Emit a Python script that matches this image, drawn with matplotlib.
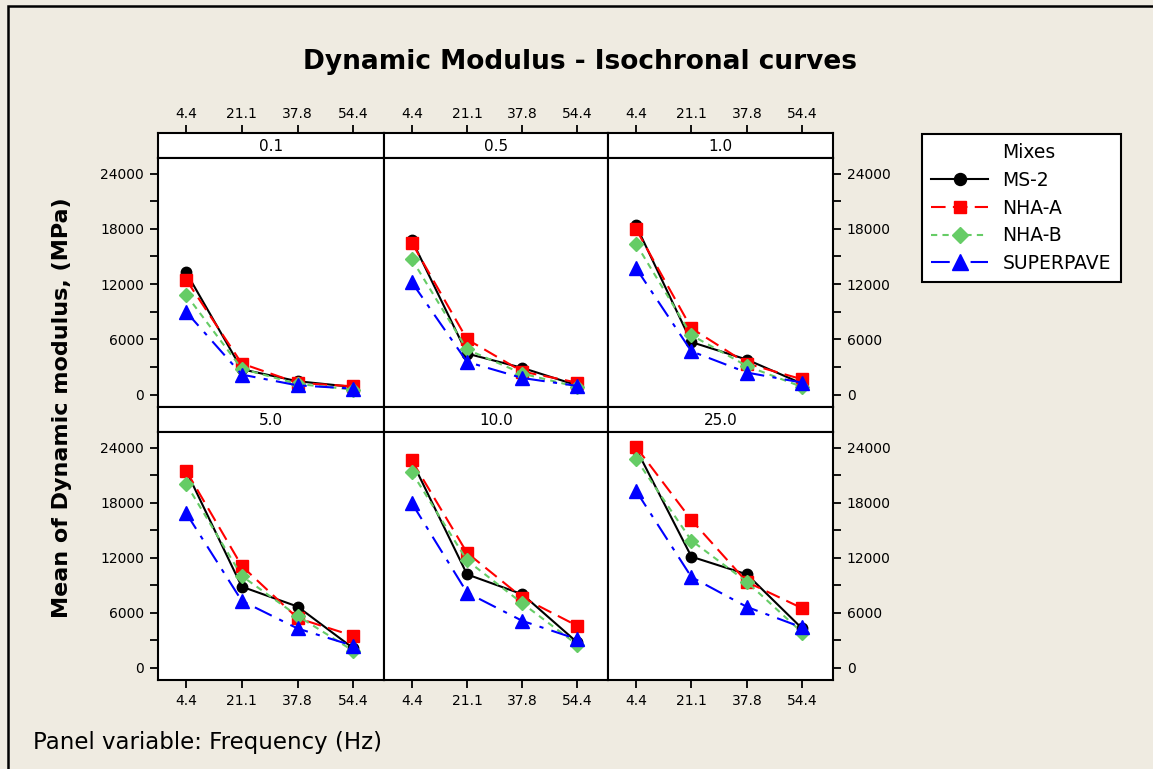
import matplotlib
matplotlib.use("Agg")
import matplotlib.pyplot as plt
from matplotlib.lines import Line2D
from matplotlib.patches import Rectangle
import numpy as np

# temperatures (x axis) and loading frequencies (panels)
temps = [4.4, 21.1, 37.8, 54.4]
freqs = ["0.1", "0.5", "1.0", "5.0", "10.0", "25.0"]

# mean dynamic modulus (MPa) per panel
ms2 = [[13300, 2750, 1450, 830],
       [16800, 4450, 2900, 1000],
       [18400, 5700, 3800, 1190],
       [21500, 8830, 6660, 2140],
       [22550, 10170, 8000, 2750],
       [23900, 12100, 10170, 4270]]
nha_a = [[12500, 3370, 1270, 900],
         [16500, 6000, 2500, 1300],
         [18000, 7200, 3370, 1660],
         [21500, 11080, 5400, 3470],
         [22600, 12520, 7640, 4560],
         [24100, 16100, 9340, 6480]]
nha_b = [[10860, 2800, 1150, 550],
         [14700, 4900, 2280, 830],
         [16400, 6450, 3100, 830],
         [20060, 9990, 5650, 1850],
         [21300, 11690, 7020, 2500],
         [22770, 13860, 9340, 3830]]
superpave = [[9000, 2170, 1000, 650],
             [12200, 3550, 1800, 940],
             [13750, 4700, 2390, 1300],
             [16870, 7280, 4270, 2390],
             [17950, 8180, 5100, 3100],
             [19300, 9880, 6620, 4380]]

mixes = ["MS-2", "NHA-A", "NHA-B", "SUPERPAVE"]
series = [ms2, nha_a, nha_b, superpave]
styles = [
    dict(color="black", marker="o", ms=7.5, ls="-", lw=1.5),
    dict(color="#ff0000", marker="s", ms=8, dashes=(7, 3.5), lw=1.5),
    dict(color="#66cc66", marker="D", ms=7.5, dashes=(3, 2.5), lw=1.5),
    dict(color="#0000ff", marker="^", ms=10, dashes=(9, 4, 2, 4), lw=1.5),
]

BG = "#efebe1"
W, H = 1153, 769
XLIM = (-4.0, 63.7)

fig = plt.figure(figsize=(W / 100, H / 100), dpi=100, facecolor=BG)


def px_axes(x0, y0, x1, y1):
    """add axes from pixel box (top-left origin)"""
    return fig.add_axes([x0 / W, 1 - y1 / H, (x1 - x0) / W, (y1 - y0) / H])


# outer frame (top and left edges visible)
fig.patches.append(Rectangle((8 / W, -0.1), 1.2, 1 - 6 / H + 0.1,
                             transform=fig.transFigure, fill=False,
                             edgecolor="black", lw=1.8))

cols = [(158, 384), (384, 608), (608, 833)]
rows = [(133, 158, 407), (407, 432, 680)]

handles = []
for i, freq in enumerate(freqs):
    r, c = divmod(i, 3)
    x0, x1 = cols[c]
    s0, p0, p1 = rows[r]

    # strip with panel label; top row strips carry the top x ticks
    strip = px_axes(x0, s0, x1, p0)
    strip.set_xlim(*XLIM)
    strip.set_yticks([])
    if r == 0:
        strip.set_xticks(temps)
        strip.set_xticklabels([str(t) for t in temps])
        strip.tick_params(direction="out", length=6, width=1.3, labelsize=10,
                          top=True, labeltop=True, bottom=False,
                          labelbottom=False, pad=3)
    else:
        strip.set_xticks([])
    strip.text(0.5, 0.45, freq, ha="center", va="center", fontsize=11,
               transform=strip.transAxes)
    for sp in strip.spines.values():
        sp.set_linewidth(1.5)

    ax = px_axes(x0, p0, x1, p1)
    for data, name, st in zip(series, mixes, styles):
        ln, = ax.plot(temps, data[i], label=name, **st)
        if i == 0:
            handles.append(ln)

    ax.set_xlim(*XLIM)
    ax.set_ylim(-1350, 25700)
    for sp in ax.spines.values():
        sp.set_linewidth(1.5)

    ax.set_yticks(np.arange(0, 24001, 3000))
    ax.set_yticklabels([str(v) if v % 6000 == 0 else "" for v in range(0, 24001, 3000)])
    ax.set_xticks(temps)
    ax.set_xticklabels([str(t) for t in temps])
    ax.tick_params(direction="out", length=6, width=1.3, labelsize=10,
                   left=(c == 0), labelleft=(c == 0),
                   right=(c == 2), labelright=(c == 2),
                   top=False, labeltop=False,
                   bottom=(r == 1), labelbottom=(r == 1), pad=4)

fig.text(580 / W, 1 - 62 / H, "Dynamic Modulus - Isochronal curves",
         ha="center", va="center", fontsize=19, fontweight="bold")
fig.text(62 / W, 1 - 408 / H, "Mean of Dynamic modulus, (MPa)",
         ha="center", va="center", rotation=90, fontsize=16, fontweight="bold")
fig.text(33 / W, 1 - 742 / H, "Panel variable: Frequency (Hz)",
         ha="left", va="center", fontsize=16.5)

# legend title sits in line with the labels, so use a blank entry for it
blank = Line2D([], [], ls="none", marker="none")
leg = fig.legend(handles=[blank] + handles, labels=["Mixes"] + mixes,
                 loc="upper left", bbox_to_anchor=(922 / W, 1 - 134 / H),
                 fontsize=13.5, frameon=True, fancybox=False,
                 handlelength=3.0, borderpad=0.5, labelspacing=0.46,
                 handletextpad=0.8, borderaxespad=0, markerscale=1.15)
leg.get_frame().set_edgecolor("black")
leg.get_frame().set_linewidth(1.5)
leg.get_frame().set_alpha(1)

fig.savefig("out.png", dpi=100, facecolor=BG)
